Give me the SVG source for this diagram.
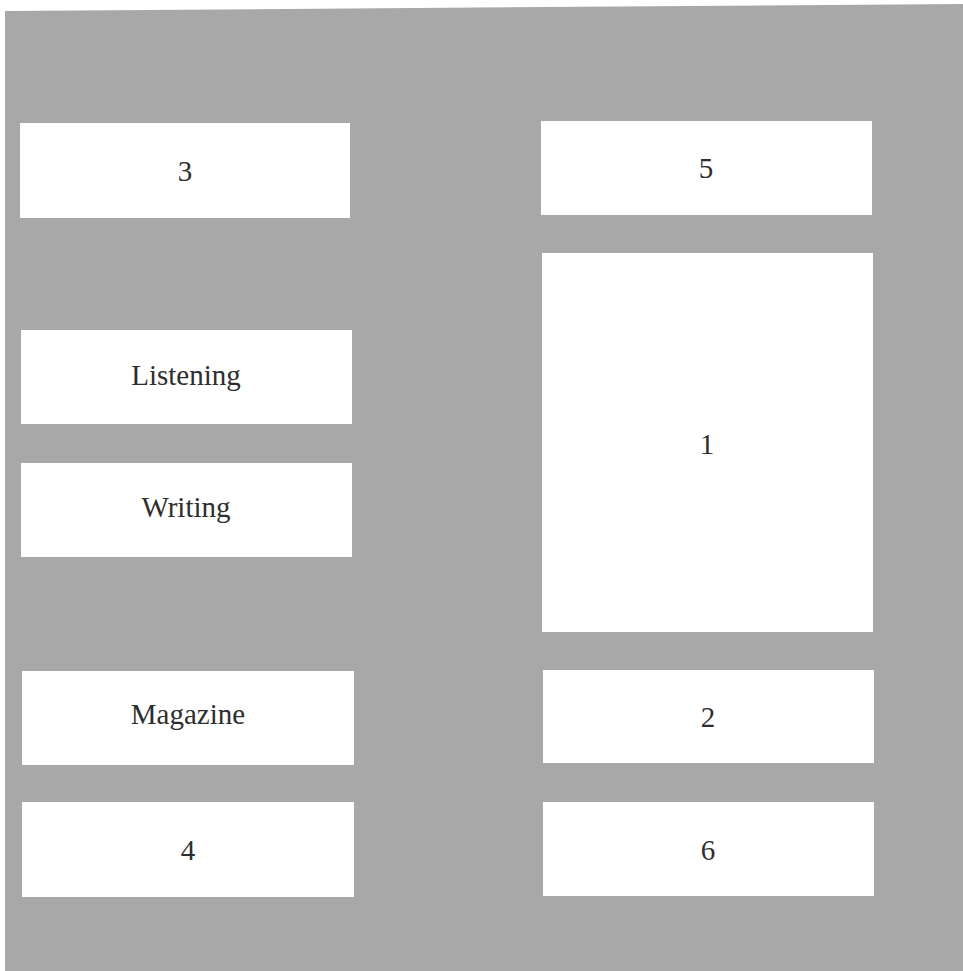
<svg xmlns="http://www.w3.org/2000/svg" width="963" height="971" viewBox="0 0 963 971">
<style>
.box{fill:#ffffff}
.lbl{font-family:"Liberation Serif","Times New Roman",serif;font-size:29px;fill:#2e2e2e;text-anchor:middle}
</style>
<rect x="0" y="0" width="963" height="971" fill="#ffffff"/>
<polygon points="5,11 963,4 963,971 5,971" fill="#a8a8a8"/>
<g id="connectors"></g>
<g id="n3"><rect class="box" x="20" y="123" width="330" height="95"/><text class="lbl" x="185" y="181">3</text></g>
<g id="n5"><rect class="box" x="541" y="121" width="331" height="94"/><text class="lbl" x="706" y="178">5</text></g>
<g id="nListening"><rect class="box" x="21" y="330" width="331" height="94"/><text class="lbl" x="186" y="385">Listening</text></g>
<g id="nWriting"><rect class="box" x="21" y="463" width="331" height="94"/><text class="lbl" x="186" y="517">Writing</text></g>
<g id="n1"><rect class="box" x="542" y="253" width="331" height="379"/><text class="lbl" x="707" y="454">1</text></g>
<g id="nMagazine"><rect class="box" x="22" y="671" width="332" height="94"/><text class="lbl" x="188" y="724">Magazine</text></g>
<g id="n2"><rect class="box" x="543" y="670" width="331" height="93"/><text class="lbl" x="708" y="727">2</text></g>
<g id="n4"><rect class="box" x="22" y="802" width="332" height="95"/><text class="lbl" x="188" y="860">4</text></g>
<g id="n6"><rect class="box" x="543" y="802" width="331" height="94"/><text class="lbl" x="708" y="860">6</text></g>
</svg>
